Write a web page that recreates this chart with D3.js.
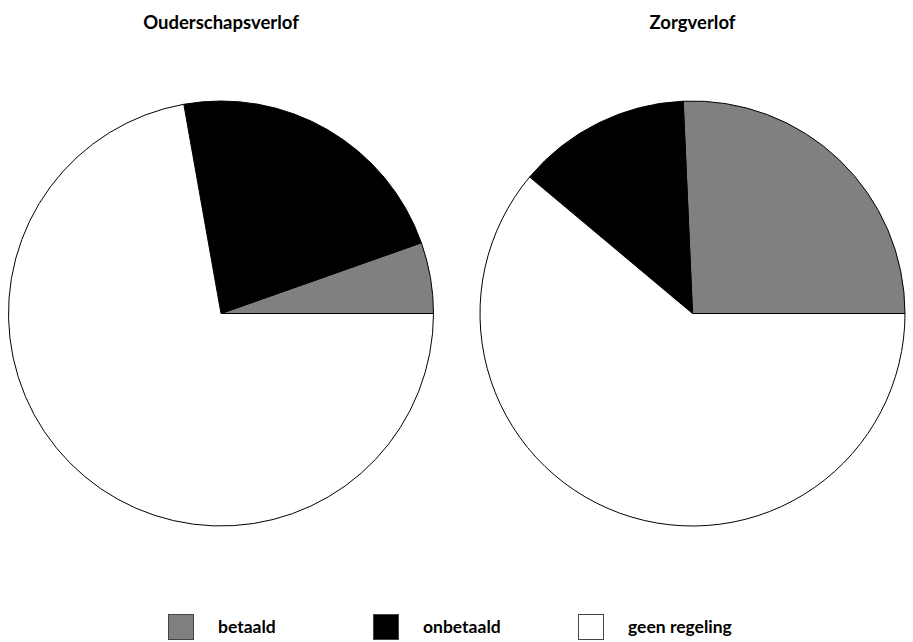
<!DOCTYPE html>
<html>
<head>
<meta charset="utf-8">
<script src="https://cdn.jsdelivr.net/npm/d3@7/dist/d3.min.js"></script>
<style>
  html, body { margin: 0; padding: 0; background: #fff; }
  svg { display: block; }
  text { font-family: "Lato", "Open Sans", sans-serif; font-weight: 700; fill: #000; }
</style>
</head>
<body>
<svg id="chart" width="913" height="642"></svg>
<script>
// Leave categories and their shares (%)
const categories = ["betaald", "onbetaald", "geen regeling"];
const panels = ["Ouderschapsverlof", "Zorgverlof"];
const ouderschapsverlof = [5.4, 22.4, 72.2];
const zorgverlof = [25.7, 13.2, 61.1];
const seriesByPanel = [ouderschapsverlof, zorgverlof];

const colors = ["#808080", "#000000", "#ffffff"];

const svg = d3.select("#chart");
const radius = 212.5;
const cy = 313.5;

const color = d3.scaleOrdinal().domain(categories).range(colors);
const cx = d3.scalePoint().domain(panels).range([221, 692.5]);

// Slices start at 3 o'clock and run counter-clockwise
const pie = d3.pie()
  .sort(null)
  .startAngle(Math.PI / 2)
  .endAngle(Math.PI / 2 - 2 * Math.PI);

const arc = d3.arc().innerRadius(0).outerRadius(radius);

panels.forEach((name, i) => {
  const data = categories.map((c, j) => ({ cat: c, value: seriesByPanel[i][j] }));
  const g = svg.append("g").attr("transform", `translate(${cx(name)},${cy})`);

  g.selectAll("path")
    .data(pie.value(d => d.value)(data))
    .join("path")
    .attr("d", arc)
    .attr("fill", d => color(d.data.cat))
    .attr("stroke", "#000")
    .attr("stroke-width", 1);

  svg.append("text")
    .attr("x", cx(name))
    .attr("y", 29)
    .attr("text-anchor", "middle")
    .attr("font-size", 18.5)
    .text(name);
});

// Legend
const legendX = d3.scalePoint().domain(categories).range([168, 578]);
const legend = svg.append("g");
categories.forEach(c => {
  legend.append("rect")
    .attr("x", legendX(c) + 0.5)
    .attr("y", 614.5)
    .attr("width", 25)
    .attr("height", 25)
    .attr("fill", color(c))
    .attr("stroke", "#444")
    .attr("stroke-width", 1);
  legend.append("text")
    .attr("x", legendX(c) + 50)
    .attr("y", 633)
    .attr("font-size", 17.5)
    .text(c);
});
</script>
</body>
</html>
